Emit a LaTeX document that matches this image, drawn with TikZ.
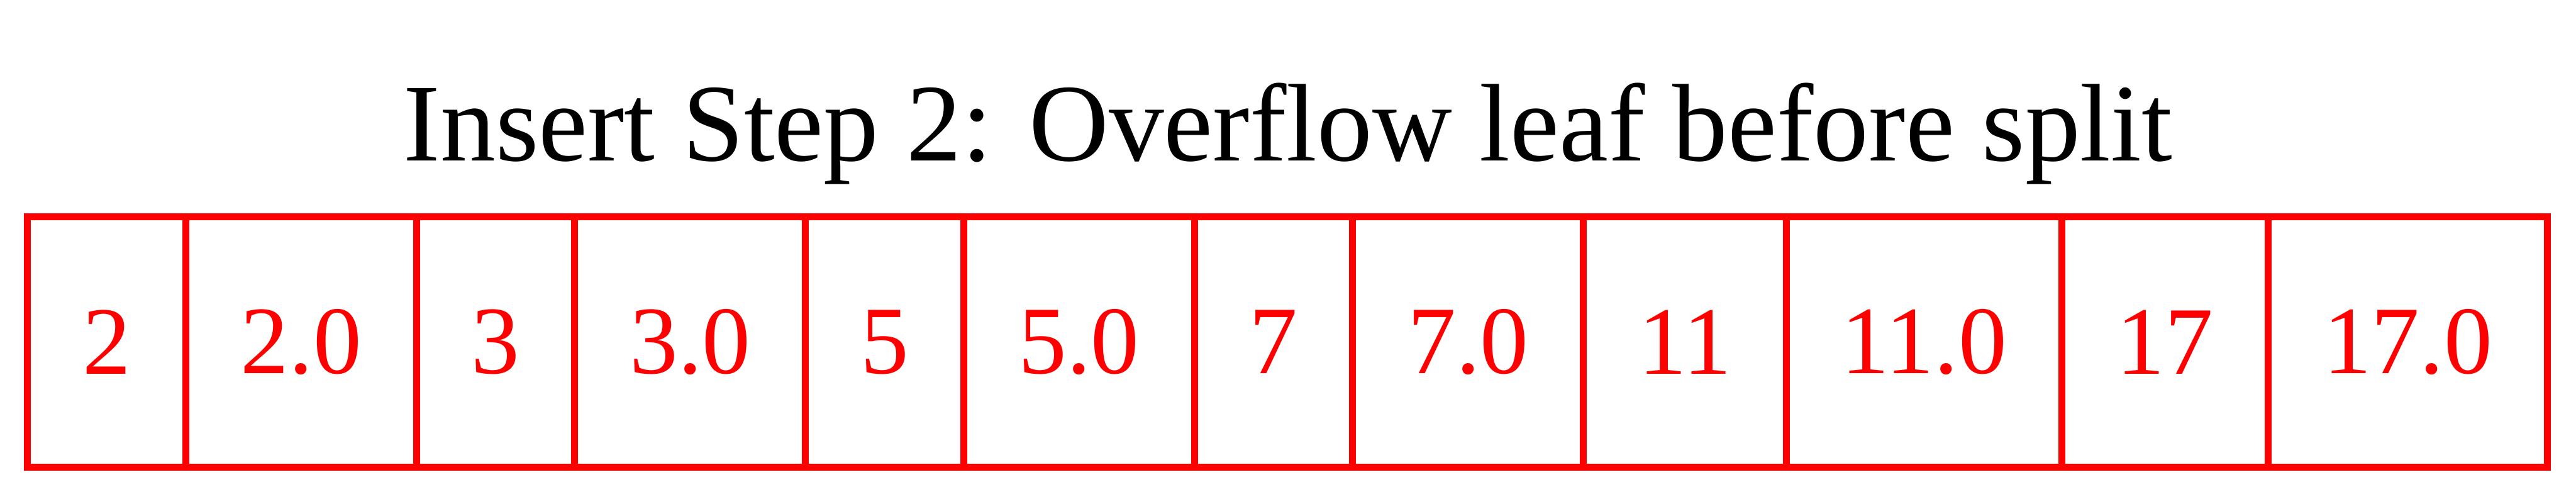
\documentclass[tikz,border=0pt]{standalone}
\usepackage{fontspec}
\setmainfont{Liberation Serif}
\usepackage{tikz}
\usetikzlibrary{positioning}

\tikzset{
  cell/.style={rectangle,draw=red,line width=1pt,text=red,outer sep=0pt,
    inner xsep=7.97pt,minimum height=36.26pt,
    font=\fontsize{14pt}{17pt}\selectfont},
  title/.style={font=\fontsize{16pt}{19pt}\selectfont,anchor=base}
}

\begin{document}
\begin{tikzpicture}
\useasboundingbox (0,0) rectangle (373.4pt,72.25pt);
% heading
\node (title) [title] at (186.7pt,48.99pt) {Insert Step 2: Overflow leaf before split};
% leaf entries, key then value
\node (k2) [cell,anchor=west] at (3.99pt,22.7pt) {2};
\node (v2) [cell,right=0pt of k2] {2.0};
\node (k3) [cell,right=0pt of v2] {3};
\node (v3) [cell,right=0pt of k3] {3.0};
\node (k5) [cell,right=0pt of v3] {5};
\node (v5) [cell,right=0pt of k5] {5.0};
\node (k7) [cell,right=0pt of v5] {7};
\node (v7) [cell,right=0pt of k7] {7.0};
\node (k11) [cell,right=0pt of v7] {11};
\node (v11) [cell,right=0pt of k11] {11.0};
\node (k17) [cell,right=0pt of v11] {17};
\node (v17) [cell,right=0pt of k17] {17.0};
\end{tikzpicture}
\end{document}
